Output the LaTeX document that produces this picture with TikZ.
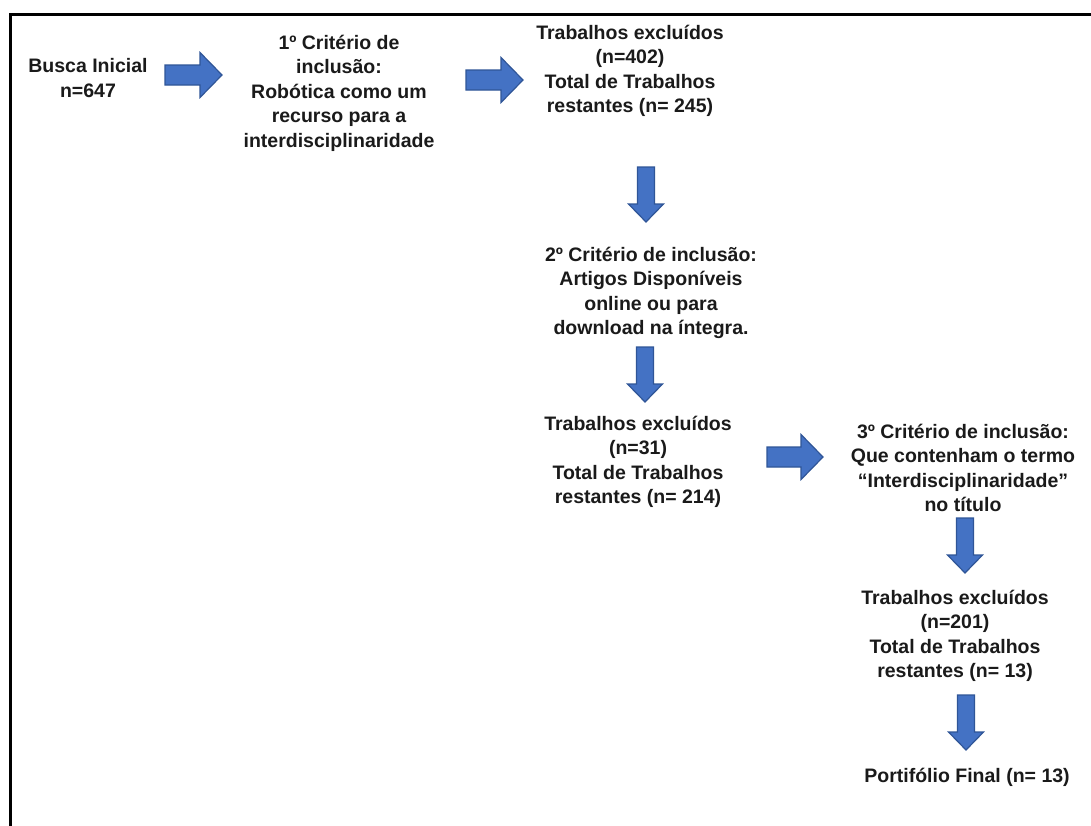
\documentclass[tikz,border=0pt]{standalone}
\usepackage{fontspec}
\setmainfont{Liberation Sans}
\usetikzlibrary{calc}
\definecolor{arrfill}{HTML}{4472C4}
\definecolor{arrline}{HTML}{2F5597}
\definecolor{txt}{HTML}{1A1A1A}
\begin{document}
\begin{tikzpicture}[x=1pt,y=-1pt,
  lbl/.style={align=center,inner sep=0pt,text=txt,font=\fontsize{19.5}{24.5}\selectfont\bfseries},
  blk/.style={fill=arrfill,draw=arrline,line width=1.2pt,line join=miter},
  rightblock/.style={blk,to path={
     ($(\tikztostart)+(0,-10)$) -- ($(\tikztotarget)+(-22,-10)$) -- ($(\tikztotarget)+(-22,-22.5)$)
     -- (\tikztotarget) -- ($(\tikztotarget)+(-22,22.5)$) -- ($(\tikztotarget)+(-22,10)$)
     -- ($(\tikztostart)+(0,10)$) -- cycle}},
  downblock/.style={blk,to path={
     ($(\tikztostart)+(-8.5,0)$) -- ($(\tikztotarget)+(-8.5,-18)$) -- ($(\tikztotarget)+(-17.5,-18)$)
     -- (\tikztotarget) -- ($(\tikztotarget)+(17.5,-18)$) -- ($(\tikztotarget)+(8.5,-18)$)
     -- ($(\tikztostart)+(8.5,0)$) -- cycle}}]
\useasboundingbox (0,0) rectangle (1091,825);
\fill[white] (0,0) rectangle (1091,825);
\draw[line width=3pt,line cap=rect] (10,830) -- (10,14) -- (1095,14);

\node[lbl] (busca) at (88,78) {Busca Inicial\\n=647};
\node[lbl] (c1) at (339,93) {1º Critério de\\inclusão:\\Robótica como um\\recurso para a\\interdisciplinaridade};
\node[lbl] (t1) at (630,71) {Trabalhos excluídos\\(n=402)\\Total de Trabalhos\\restantes (n= 245)};
\node[lbl] (c2) at (651,293) {2º Critério de inclusão:\\Artigos Disponíveis\\online ou para\\download na íntegra.};
\node[lbl] (t2) at (638,462) {Trabalhos excluídos\\(n=31)\\Total de Trabalhos\\restantes (n= 214)};
\node[lbl] (c3) at (963,468) {3º Critério de inclusão:\\Que contenham o termo\\“Interdisciplinaridade”\\no título};
\node[lbl] (t3) at (955,636) {Trabalhos excluídos\\(n=201)\\Total de Trabalhos\\restantes (n= 13)};
\node[lbl] (fin) at (967,777) {Portifólio Final (n= 13)};

\coordinate (a1s) at (165,75);  \coordinate (a1e) at (222,75);
\coordinate (a2s) at (466,80);  \coordinate (a2e) at (523,80);
\coordinate (d1s) at (646,167); \coordinate (d1e) at (646,222);
\coordinate (d2s) at (645,347); \coordinate (d2e) at (645,402);
\coordinate (a3s) at (767,457); \coordinate (a3e) at (823,457);
\coordinate (d3s) at (965,518); \coordinate (d3e) at (965,573);
\coordinate (d4s) at (966,695); \coordinate (d4e) at (966,750);

\draw[rightblock] (a1s) to (a1e);
\draw[rightblock] (a2s) to (a2e);
\draw[downblock] (d1s) to (d1e);
\draw[downblock] (d2s) to (d2e);
\draw[rightblock] (a3s) to (a3e);
\draw[downblock] (d3s) to (d3e);
\draw[downblock] (d4s) to (d4e);
\end{tikzpicture}
\end{document}
